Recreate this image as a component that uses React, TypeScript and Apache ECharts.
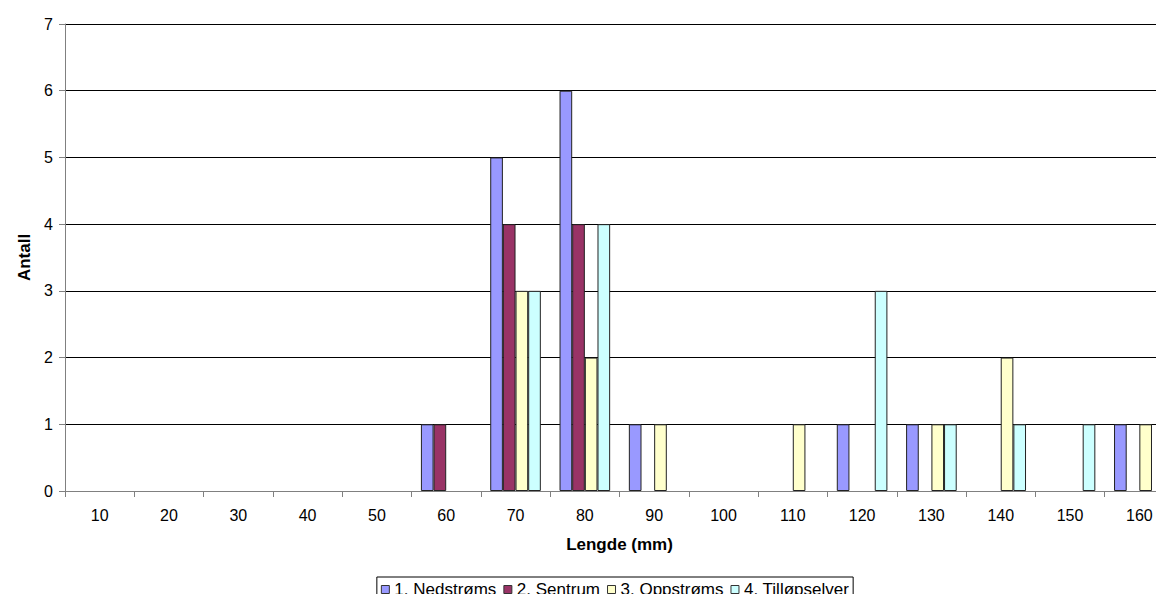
import React, { useEffect, useRef } from "react";
import * as echarts from "echarts";

const categories = ["10", "20", "30", "40", "50", "60", "70", "80", "90", "100", "110", "120", "130", "140", "150", "160"];
const nedstroms = [null, null, null, null, null, 1, 5, 6, 1, null, null, 1, 1, null, null, 1];
const sentrum = [null, null, null, null, null, 1, 4, 4, null, null, null, null, null, null, null, null];
const oppstroms = [null, null, null, null, null, null, 3, 2, 1, null, 1, null, 1, 2, null, 1];
const tillopselver = [null, null, null, null, null, null, 3, 4, null, null, null, 3, 1, 1, 1, null];
const seriesNames = ["1. Nedstrøms", "2. Sentrum", "3. Oppstrøms", "4. Tilløpselver"];
const colors = ["#9999FF", "#993366", "#FFFFCC", "#CCFFFF"];

export default function App() {
  const ref = useRef<HTMLDivElement>(null);
  useEffect(() => {
    const chart = echarts.init(ref.current!, null, { renderer: "svg" });
    const data = [nedstroms, sentrum, oppstroms, tillopselver];
    chart.setOption({
      animation: false,
      textStyle: { fontFamily: "Liberation Sans, Arial, sans-serif" },
      grid: { left: 52, right: 48, top: 16, bottom: 111, containLabel: false },
      legend: {
        top: 569,
        left: "center",
        icon: "rect",
        itemWidth: 8,
        itemHeight: 8,
        itemGap: 7,
        borderColor: "#000",
        borderWidth: 1,
        padding: [4, 4, 6, 4],
        borderRadius: 0,
        textStyle: { fontSize: 17, color: "#000" },
        data: seriesNames.map((n) => ({ name: n, itemStyle: { borderColor: "#333", borderWidth: 1 } })),
      },
      xAxis: {
        type: "category",
        data: categories,
        name: "Lengde (mm)",
        nameLocation: "middle",
        nameGap: 45,
        nameTextStyle: { fontWeight: "bold", fontSize: 17, color: "#000" },
        axisLine: { lineStyle: { color: "#808080" } },
        axisTick: { show: true, alignWithLabel: false, length: 6, lineStyle: { color: "#808080" } },
        axisLabel: { color: "#000", fontSize: 16, margin: 16 },
        splitLine: { show: false },
      },
      yAxis: {
        type: "value",
        min: 0,
        max: 7,
        interval: 1,
        name: "Antall",
        nameLocation: "middle",
        nameGap: 32,
        nameTextStyle: { fontWeight: "bold", fontSize: 17, color: "#000" },
        axisLine: { show: true, lineStyle: { color: "#808080" } },
        axisTick: { show: true, length: 6, lineStyle: { color: "#808080" } },
        axisLabel: { color: "#000", fontSize: 16, margin: 12 },
        splitLine: { show: true, lineStyle: { color: "#000", width: 1 } },
      },
      series: seriesNames.map((n, i) => ({
        name: n,
        type: "bar",
        data: data[i],
        barGap: "0%",
        barCategoryGap: "27%",
        itemStyle: { color: colors[i], borderColor: "#222", borderWidth: 1 },
      })),
    });
    return () => chart.dispose();
  }, []);
  return (
    <div style={{ width: 1156, height: 594, overflow: "hidden", marginBottom: -8 }}>
      <div ref={ref} style={{ width: 1214, height: 594 }} />
    </div>
  );
}
